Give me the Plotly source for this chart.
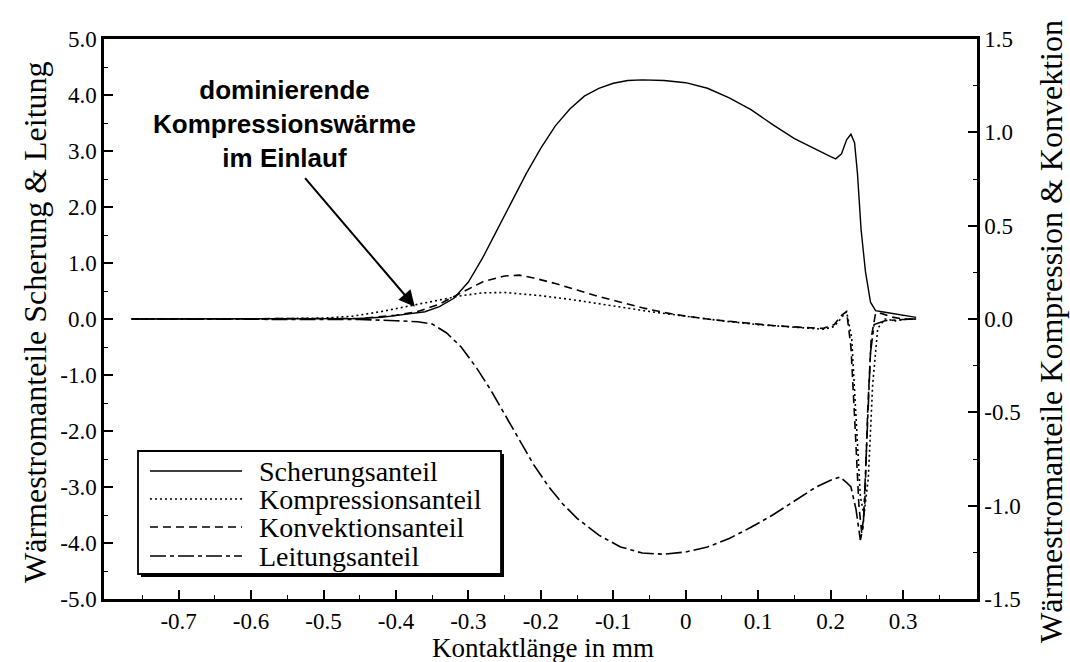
import plotly.graph_objects as go

# --- data -------------------------------------------------------------------
# Scherungsanteil (left axis)
x_scherung = [-0.765, -0.6, -0.5, -0.45, -0.42, -0.40, -0.38, -0.36, -0.34, -0.32, -0.30,
              -0.28, -0.26, -0.24, -0.22, -0.20, -0.18, -0.16, -0.14, -0.12, -0.10, -0.08,
              -0.06, -0.03, 0.0, 0.03, 0.06, 0.09, 0.12, 0.15, 0.18, 0.20, 0.207, 0.215,
              0.222, 0.228, 0.233, 0.237, 0.242, 0.248, 0.255, 0.262, 0.275, 0.30, 0.318]
y_scherung = [0, 0, 0, 0.01, 0.03, 0.06, 0.09, 0.13, 0.22, 0.37, 0.66,
              1.1, 1.6, 2.1, 2.6, 3.05, 3.45, 3.75, 3.98, 4.12, 4.21, 4.26,
              4.27, 4.26, 4.22, 4.12, 3.95, 3.74, 3.47, 3.22, 3.02, 2.9, 2.86, 2.95,
              3.2, 3.3, 3.15, 2.6, 1.6, 0.85, 0.3, 0.15, 0.12, 0.06, 0.03]

# Leitungsanteil (left axis)
x_leitung = [-0.765, -0.6, -0.5, -0.45, -0.40, -0.37, -0.35, -0.33, -0.31, -0.29, -0.27,
             -0.25, -0.23, -0.21, -0.19, -0.17, -0.15, -0.12, -0.09, -0.06, -0.03, 0.0,
             0.03, 0.06, 0.09, 0.12, 0.15, 0.18, 0.20, 0.213, 0.222, 0.228, 0.235, 0.241,
             0.245, 0.25, 0.255, 0.26, 0.275, 0.30, 0.318]
y_leitung = [0, 0, 0, -0.01, -0.03, -0.05, -0.09, -0.25, -0.5, -0.85, -1.25,
             -1.7, -2.15, -2.6, -2.98, -3.3, -3.56, -3.86, -4.07, -4.18, -4.2, -4.16,
             -4.07, -3.92, -3.72, -3.5, -3.25, -3.0, -2.88, -2.82, -2.92, -3.0, -3.4, -3.95,
             -3.7, -2.0, -0.6, -0.1, -0.03, -0.01, 0.0]

# Kompressionsanteil (right axis)
x_kompression = [-0.765, -0.6, -0.5, -0.46, -0.42, -0.38, -0.34, -0.31, -0.28, -0.25, -0.2,
                 -0.15, -0.1, -0.05, 0.0, 0.05, 0.1, 0.15, 0.19, 0.205, 0.215, 0.222, 0.229,
                 0.235, 0.241, 0.246, 0.252, 0.258, 0.265, 0.275, 0.29, 0.305, 0.318]
y_kompression = [0, 0, 0.005, 0.015, 0.04, 0.07, 0.1, 0.125, 0.14, 0.142, 0.125,
                 0.1, 0.07, 0.04, 0.015, -0.01, -0.03, -0.045, -0.055, -0.04, 0.01, 0.04, -0.1,
                 -0.5, -0.95, -1.05, -0.85, -0.35, -0.05, 0.0, -0.01, 0.0, 0.0]

# Konvektionsanteil (right axis)
x_konvektion = [-0.765, -0.6, -0.5, -0.45, -0.40, -0.37, -0.34, -0.31, -0.28, -0.25, -0.23,
                -0.21, -0.18, -0.15, -0.12, -0.09, -0.06, -0.03, 0.0, 0.04, 0.08, 0.12, 0.16,
                0.19, 0.205, 0.215, 0.222, 0.228, 0.234, 0.239, 0.243, 0.247, 0.251, 0.256,
                0.262, 0.27, 0.285, 0.30, 0.318]
y_konvektion = [0, 0, 0, 0.003, 0.02, 0.04, 0.08, 0.14, 0.2, 0.23, 0.235,
                0.22, 0.19, 0.155, 0.12, 0.09, 0.06, 0.035, 0.015, -0.005, -0.02, -0.035, -0.045,
                -0.05, -0.03, 0.02, 0.04, -0.15, -0.6, -1.0, -1.15, -1.0, -0.5, -0.1,
                0.03, 0.03, 0.01, 0.0, 0.0]

series_names = ["Scherungsanteil", "Kompressionsanteil", "Konvektionsanteil", "Leitungsanteil"]

x_tickvals = [-0.7, -0.6, -0.5, -0.4, -0.3, -0.2, -0.1, 0.0, 0.1, 0.2, 0.3]
x_ticktext = ["-0.7", "-0.6", "-0.5", "-0.4", "-0.3", "-0.2", "-0.1", "0", "0.1", "0.2", "0.3"]
y_left_tickvals = [5, 4, 3, 2, 1, 0, -1, -2, -3, -4, -5]
y_left_ticktext = ["5.0", "4.0", "3.0", "2.0", "1.0", "0.0", "-1.0", "-2.0", "-3.0", "-4.0", "-5.0"]
y_right_tickvals = [1.5, 1.0, 0.5, 0.0, -0.5, -1.0, -1.5]
y_right_ticktext = ["1.5", "1.0", "0.5", "0.0", "-0.5", "-1.0", "-1.5"]

# --- styling ----------------------------------------------------------------
SERIF = "Liberation Serif, Times New Roman, serif"
SANS = "Liberation Sans, Arial, sans-serif"
W, H = 1070, 662
ML, MR, MT, MB = 104, 93, 39, 63
PW, PH = W - ML - MR, H - MT - MB

dashes = {
    "Scherungsanteil": "solid",
    "Kompressionsanteil": "2px,3px",
    "Konvektionsanteil": "8px,5px",
    "Leitungsanteil": "16px,4px,4px,4px",
}


def px_x(p):
    return (p - ML) / PW


def px_y(p):
    return (H - MB - p) / PH


fig = go.Figure()
fig.add_trace(go.Scatter(x=x_scherung, y=y_scherung, mode="lines", name=series_names[0],
                         line=dict(color="black", width=1.4, dash=dashes[series_names[0]])))
fig.add_trace(go.Scatter(x=x_kompression, y=y_kompression, mode="lines", name=series_names[1],
                         yaxis="y2",
                         line=dict(color="black", width=1.6, dash=dashes[series_names[1]])))
fig.add_trace(go.Scatter(x=x_konvektion, y=y_konvektion, mode="lines", name=series_names[2],
                         yaxis="y2",
                         line=dict(color="black", width=1.6, dash=dashes[series_names[2]])))
fig.add_trace(go.Scatter(x=x_leitung, y=y_leitung, mode="lines", name=series_names[3],
                         line=dict(color="black", width=1.6, dash=dashes[series_names[3]])))

tickfont = dict(family=SERIF, size=23, color="black")

fig.update_layout(
    width=W, height=H,
    margin=dict(l=ML, r=MR, t=MT, b=MB),
    paper_bgcolor="white", plot_bgcolor="white",
    showlegend=False,
    xaxis=dict(range=[-0.803, 0.402], showgrid=False, zeroline=False,
               showline=True, linecolor="black", linewidth=2.5, mirror=True,
               ticks="inside", ticklen=9, tickwidth=1.5, tickcolor="black",
               tickmode="array", tickvals=x_tickvals, ticktext=x_ticktext,
               tickfont=tickfont, ticklabelstandoff=0,
               minor=dict(ticks="inside", ticklen=4, tickwidth=1.2, tickcolor="black",
                          tickmode="array",
                          tickvals=[-0.75, -0.65, -0.55, -0.45, -0.35, -0.25, -0.15,
                                    -0.05, 0.05, 0.15, 0.25, 0.35])),
    yaxis=dict(range=[-5, 5], showgrid=False, zeroline=False,
               showline=True, linecolor="black", linewidth=2.5,
               ticks="inside", ticklen=9, tickwidth=1.5, tickcolor="black",
               tickmode="array", tickvals=y_left_tickvals, ticktext=y_left_ticktext,
               tickfont=tickfont,
               minor=dict(ticks="inside", ticklen=4, tickwidth=1.2, tickcolor="black",
                          tickmode="array",
                          tickvals=[4.5, 3.5, 2.5, 1.5, 0.5, -0.5, -1.5, -2.5, -3.5, -4.5])),
    yaxis2=dict(range=[-1.5, 1.5], overlaying="y", side="right", showgrid=False,
                zeroline=False, showline=True, linecolor="black", linewidth=2.5,
                ticks="inside", ticklen=9, tickwidth=1.5, tickcolor="black",
                tickmode="array", tickvals=y_right_tickvals, ticktext=y_right_ticktext,
                tickfont=tickfont,
                minor=dict(ticks="inside", ticklen=4, tickwidth=1.2, tickcolor="black",
                           tickmode="array",
                           tickvals=[1.25, 0.75, 0.25, -0.25, -0.75, -1.25])),
)

annotations = []
shapes = []

# axis titles
title_font = dict(family=SERIF, size=32, color="black")
annotations.append(dict(text="Kontaktlänge in mm", xref="paper", yref="paper",
                        x=px_x(543), y=px_y(648), xanchor="center", yanchor="middle",
                        showarrow=False,
                        font=dict(family=SERIF, size=27, color="black")))
annotations.append(dict(text="Wärmestromanteile Scherung &amp; Leitung", xref="paper",
                        yref="paper", x=px_x(35), y=px_y(322), textangle=-90,
                        xanchor="center", yanchor="middle",
                        showarrow=False, font=title_font))
annotations.append(dict(text="Wärmestromanteile Kompression &amp; Konvektion", xref="paper",
                        yref="paper", x=px_x(1051), y=px_y(332), textangle=-90,
                        xanchor="center", yanchor="middle",
                        showarrow=False, font=title_font))

# callout
annotations.append(dict(text="dominierende<br>Kompressionswärme<br>im Einlauf",
                        xref="paper", yref="paper", x=px_x(284), y=px_y(124),
                        xanchor="center", yanchor="middle",
                        showarrow=False, align="center",
                        font=dict(family=SANS, size=26, color="black", weight="bold")))
annotations.append(dict(text="", xref="x", yref="y", x=-0.374, y=0.22,
                        ax=-111, ay=-130, axref="pixel", ayref="pixel",
                        showarrow=True, arrowhead=2, arrowsize=1.6, arrowwidth=2,
                        arrowcolor="black"))

# legend box with drop shadow
lx0, ly0, lx1, ly1 = 138, 451, 501, 574
shapes.append(dict(type="rect", xref="paper", yref="paper",
                   x0=px_x(lx0 + 3), y0=px_y(ly1 + 3), x1=px_x(lx1 + 3), y1=px_y(ly0 + 3),
                   fillcolor="black", line=dict(width=0)))
shapes.append(dict(type="rect", xref="paper", yref="paper",
                   x0=px_x(lx0), y0=px_y(ly1), x1=px_x(lx1), y1=px_y(ly0),
                   fillcolor="white", line=dict(color="black", width=1.8)))
row_y = [471, 499, 527, 556]
for name, ry in zip(series_names, row_y):
    shapes.append(dict(type="line", xref="paper", yref="paper",
                       x0=px_x(150), x1=px_x(242), y0=px_y(ry), y1=px_y(ry),
                       line=dict(color="black", width=1.6, dash=dashes[name])))
    annotations.append(dict(text=name, xref="paper", yref="paper",
                            x=px_x(257), y=px_y(ry), xanchor="left", yanchor="middle",
                            showarrow=False,
                            font=dict(family=SERIF, size=28, color="black")))

fig.update_layout(annotations=annotations, shapes=shapes)

fig.write_html("out.html")
